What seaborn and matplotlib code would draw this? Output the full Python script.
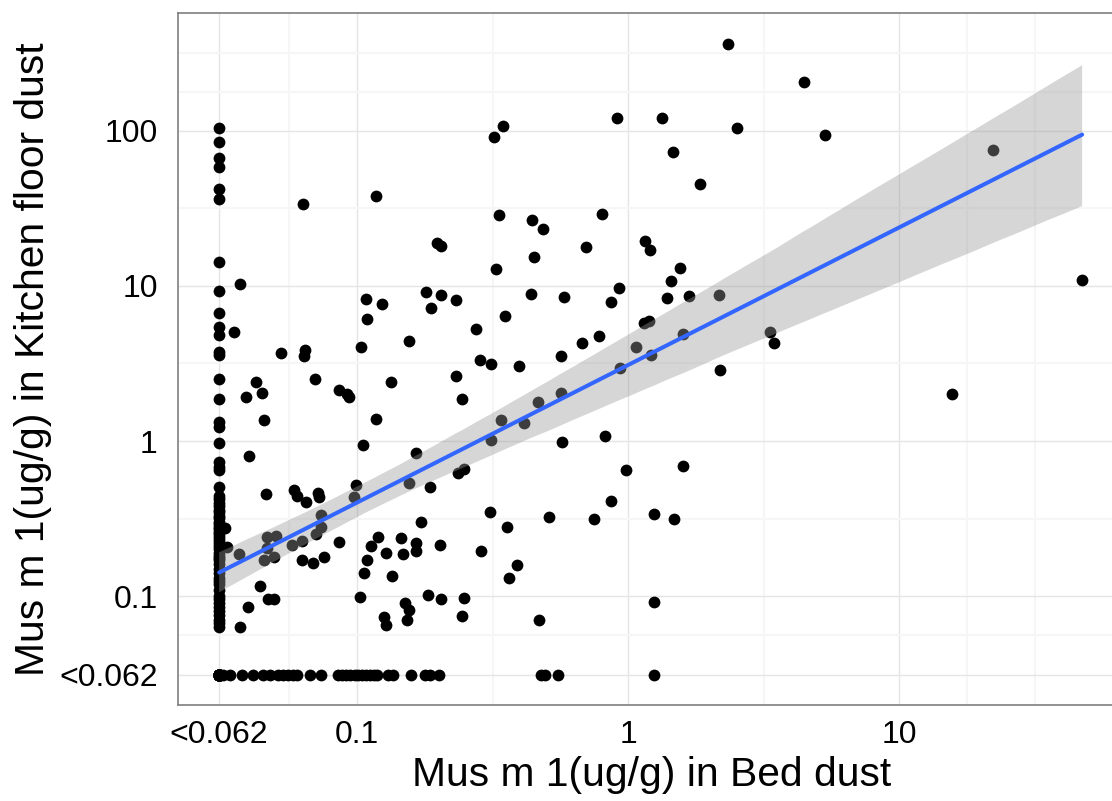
import numpy as np
import pandas as pd
import matplotlib
matplotlib.use("Agg")
import matplotlib.pyplot as plt
from matplotlib.ticker import FixedLocator
import seaborn as sns

# Results below the 0.062 ug/g detection limit are plotted at half the limit.
ND = 0.031

# Number of homes where both samples were below the limit (all share one spot)
n_both_nd = 52

# Kitchen floor dust (ug/g) for homes whose bed dust was below the limit
kitchen_when_bed_nd = [
    104, 84.9, 66.5, 58.6, 42.0, 36.3, 14.2, 9.24, 6.73, 5.46, 4.83, 3.77,
    3.59, 2.50, 1.87, 1.33, 1.24, 0.966, 0.735, 0.683, 0.650, 0.505,
    0.44, 0.42, 0.40, 0.38, 0.36, 0.35, 0.33, 0.32, 0.30, 0.29, 0.28, 0.27,
    0.26, 0.25, 0.24, 0.23, 0.22, 0.21, 0.20, 0.19, 0.18, 0.175, 0.17, 0.16,
    0.15, 0.14, 0.13, 0.125, 0.12, 0.11, 0.10, 0.095, 0.09, 0.085, 0.08,
    0.075, 0.07, 0.067, 0.063,
]

# Bed dust (ug/g) for homes whose kitchen floor dust was below the limit
bed_when_kitchen_nd = [
    0.032, 0.034, 0.0375, 0.0414, 0.0451, 0.0477, 0.0512,
    0.0534, 0.0557, 0.0582, 0.060, 0.067, 0.0735, 0.085, 0.088, 0.091,
    0.094, 0.098, 0.101, 0.104, 0.108, 0.112, 0.116, 0.119, 0.130, 0.136,
    0.158, 0.178, 0.186, 0.201, 0.478, 0.494, 0.552, 1.25,
]

# Homes with a detectable level in both samples
bed_detected = [
    0.0326, 0.033, 0.037, 0.0352, 0.0424, 0.0388, 0.0634, 0.118, 0.345, 0.321,
    0.910, 1.339, 1.466, 1.845, 0.333, 0.442, 0.487, 0.802, 0.197, 0.204,
    0.698, 1.16, 1.21, 2.344, 4.45, 2.523, 5.33, 22.3, 0.0524, 0.0643,
    0.0637, 0.0445, 0.0455, 0.0398, 0.070, 0.0861, 0.0916, 0.0937, 0.108, 0.124,
    0.109, 0.1035, 0.156, 0.133, 0.118, 0.105, 0.0995, 0.327, 0.450, 1.556,
    1.438, 1.397, 1.675, 0.929, 0.863, 0.179, 0.2035, 0.188, 0.231, 0.440,
    0.583, 0.353, 0.274, 0.678, 0.782, 1.143, 1.194, 1.60, 1.07, 1.216,
    0.931, 0.567, 0.284, 0.313, 0.395, 0.232, 0.245, 0.568, 0.467, 0.340,
    0.413, 0.313, 0.569, 0.825, 0.1655, 0.984, 1.592, 0.236, 0.249, 0.1556,
    0.186, 2.16, 3.35, 3.47, 2.18, 15.7, 47.4, 0.0463, 0.0587, 0.0599,
    0.065, 0.0719, 0.0726, 0.0977, 0.0736, 0.0735, 0.0706, 0.0465, 0.0502, 0.0465,
    0.0496, 0.0455, 0.0625, 0.0575, 0.0368, 0.0861, 0.0625, 0.069, 0.0755, 0.0439,
    0.0468, 0.0493, 0.0397, 0.0371, 0.120, 0.1124, 0.1086, 0.1064, 0.1023, 0.128,
    0.1346, 0.1456, 0.148, 0.126, 0.1276, 0.150, 0.1556, 0.1525, 0.310, 0.172,
    0.512, 0.751, 0.867, 1.247, 1.479, 0.358, 0.165, 0.165, 0.2025, 0.287,
    0.391, 0.365, 0.183, 0.204, 0.249, 0.245, 0.470, 1.251,
]
kitchen_detected = [
    0.273, 0.208, 10.3, 5.08, 2.39, 1.91, 33.6, 38.2, 108, 91.4,
    121, 121, 73.2, 45.5, 28.7, 26.5, 23.4, 29.1, 18.9, 18.0,
    17.8, 19.5, 17.1, 366, 206, 104, 94.2, 75.4, 3.71, 3.86,
    3.53, 2.05, 1.37, 0.804, 2.50, 2.14, 2.00, 1.93, 8.28, 7.65,
    6.10, 4.06, 4.42, 2.39, 1.38, 0.938, 0.520, 12.8, 15.3, 13.1,
    10.8, 8.33, 8.66, 9.67, 7.85, 9.19, 8.79, 7.18, 8.12, 8.88,
    8.49, 6.43, 5.28, 4.27, 4.73, 5.74, 5.97, 4.92, 4.04, 3.57,
    2.96, 3.52, 3.33, 3.12, 3.05, 2.63, 1.87, 2.05, 1.79, 1.37,
    1.31, 1.01, 0.985, 1.08, 0.841, 0.650, 0.687, 0.619, 0.663, 0.539,
    0.507, 8.75, 5.07, 4.29, 2.86, 2.02, 11.0, 0.453, 0.483, 0.442,
    0.404, 0.460, 0.437, 0.437, 0.333, 0.280, 0.251, 0.241, 0.244, 0.203,
    0.179, 0.171, 0.227, 0.213, 0.187, 0.223, 0.172, 0.164, 0.178, 0.116,
    0.0957, 0.095, 0.0853, 0.063, 0.241, 0.210, 0.172, 0.140, 0.098, 0.190,
    0.135, 0.236, 0.187, 0.0735, 0.065, 0.0905, 0.0813, 0.0705, 0.350, 0.299,
    0.325, 0.314, 0.408, 0.336, 0.313, 0.280, 0.219, 0.196, 0.213, 0.195,
    0.159, 0.130, 0.101, 0.096, 0.0975, 0.074, 0.070, 0.0915,
]

tick_values = [ND, 0.1, 1, 10, 100]
tick_labels = ["<0.062", "0.1", "1", "10", "100"]

bed = ([ND] * n_both_nd + [ND] * len(kitchen_when_bed_nd)
       + bed_when_kitchen_nd + bed_detected)
kitchen = ([ND] * n_both_nd + kitchen_when_bed_nd
           + [ND] * len(bed_when_kitchen_nd) + kitchen_detected)
df = pd.DataFrame({"bed": np.log10(bed), "kitchen": np.log10(kitchen)})

sns.set_theme(style="white")
plt.rcParams["font.family"] = ["Liberation Sans", "DejaVu Sans"]

W, H = 1112, 801
fig = plt.figure(figsize=(W / 100, H / 100), dpi=100)
fig.patch.set_facecolor("white")
ax = fig.add_axes([178 / W, 1 - 705 / H, (1125 - 178) / W, (705 - 13) / H])
ax.set_facecolor("white")
ax.set_axisbelow(True)

# Log-log least squares fit with a 95% band, over the raw points
sns.regplot(
    data=df, x="bed", y="kitchen", ax=ax, ci=95, n_boot=2000, seed=11,
    scatter_kws=dict(s=72, color="black", linewidths=0, alpha=1),
    line_kws=dict(color="#3366FF", lw=2.9),
)
band = ax.collections[-1]
band.set_facecolor("#999999")
band.set_alpha(0.4)
band.set_edgecolor("none")

ax.set_xlim(-1.6605, 1.8339)
ax.set_ylim(-1.703, 2.761)

log_ticks = np.log10(tick_values)
ax.set_xticks(log_ticks[:4], tick_labels[:4])
ax.set_yticks(log_ticks, tick_labels)
ax.xaxis.set_minor_locator(FixedLocator([-1.25, -0.5, 0.5, 1.25, 1.5]))
ax.yaxis.set_minor_locator(FixedLocator([-1.25, -0.5, 0.5, 1.5, 2.25, 2.5]))

ax.grid(which="major", color="#e5e5e5", lw=1.0)
ax.grid(which="minor", color="#f6f6f6", lw=1.6)
ax.tick_params(which="major", direction="out", length=7, width=1.1,
               color="black", labelsize=23, labelcolor="black")
ax.tick_params(axis="x", which="major", pad=4)
ax.tick_params(axis="y", which="major", pad=7.5)
ax.tick_params(which="minor", length=0)
for sp in ax.spines.values():
    sp.set_color("#7f7f7f")
    sp.set_linewidth(1.2)

ax.set_xlabel("Mus m 1(ug/g) in Bed dust", fontsize=29.3, labelpad=4, color="black")
ax.set_ylabel("Mus m 1(ug/g) in Kitchen floor dust", fontsize=29.3, labelpad=5,
              color="black")

fig.savefig("out.png", dpi=100)
